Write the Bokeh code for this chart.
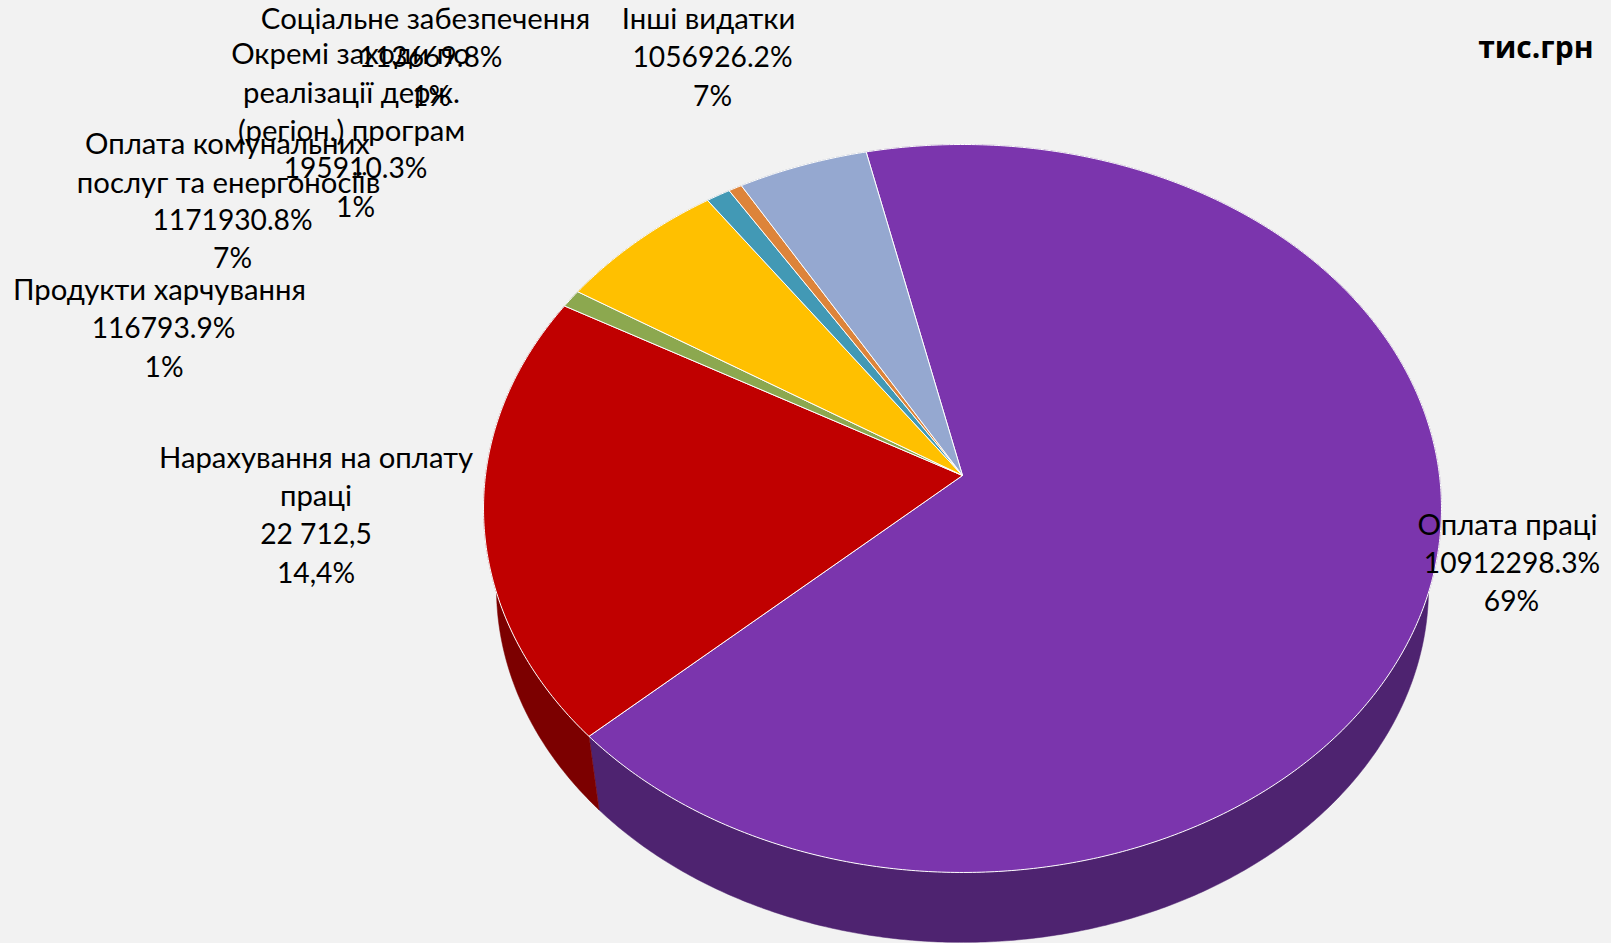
import numpy as np
from bokeh.plotting import figure
from bokeh.models import ColumnDataSource, Range1d
from bokeh.core.properties import value
from bokeh.embed import file_html
from bokeh.resources import INLINE

# ---- data ----
categories = ["Оплата праці", "Нарахування на оплату праці", "Продукти харчування",
              "Оплата комунальних послуг та енергоносіїв",
              "Окремі заходи по реалізації держ. (регіон.) програм",
              "Соціальне забезпечення", "Інші видатки"]
slice_shares = [66.6, 20.0, 0.8, 6.3, 0.9, 0.5, 4.8]   # share of the circle as drawn
top_colors = ["#7B35AD", "#C00000", "#8CA84F", "#FFC000", "#4299B5", "#DD843A", "#95A8D0"]
side_colors = ["#4E2370", "#7C0000", "#58692F", "#A07800", "#2A6072", "#8A5224", "#5E6983"]
label_lines = [
    ["Оплата праці", "10912298.3%", "69%"],
    ["Нарахування на оплату", "праці", "22 712,5", "14,4%"],
    ["Продукти харчування", "116793.9%", "1%"],
    ["Оплата комунальних", "послуг та енергоносіїв", "1171930.8%", "7%"],
    ["Окремі заходи по", "реалізації держ.", "(регіон.) програм", "195910.3%", "1%"],
    ["Соціальне забезпечення", "113669.8%", "1%"],
    ["Інші видатки", "1056926.2%", "7%"],
]
unit_label = "тис.грн"

# ---- layout (page pixels) ----
W, H = 1611, 943
BG = "#F2F2F2"
START_DEG = 102.7
APEX = (962.0, 475.0)
A, B, K = 477.0, 361.0, 0.0906     # perspective of the top disc
VANISH_Y, DEPTH_SCALE = 3461.0, 0.973
TEXT_SHIFT = -11.3
label_x = [[1507, 1511.5, 1511], [315.5, 315.5, 315.5, 315.5], [159, 163, 163.5],
           [227, 228, 232, 232], [350, 351, 351, 355, 355], [425, 430, 431], [708, 712, 712]]
label_y = [[534, 573, 611], [467, 505.5, 544, 583], [299, 338, 377],
           [153, 192, 230, 268], [63, 102, 140, 178, 217], [28, 67, 106], [28, 67, 106]]


def rim(theta):
    cx, sy = np.cos(theta), np.sin(theta)
    w = 1 + K * sy
    return APEX[0] + A * cx / w, APEX[1] - B * sy / w


def lower(x, y):
    return APEX[0] + DEPTH_SCALE * (x - APEX[0]), VANISH_Y + DEPTH_SCALE * (y - VANISH_Y)


shares = np.array(slice_shares) / sum(slice_shares)
edges = np.radians(START_DEG) - 2 * np.pi * np.concatenate([[0], np.cumsum(shares)])

top_xs, top_ys, side_xs, side_ys = [], [], [], []
for a0, a1 in zip(edges[:-1], edges[1:]):
    t = np.linspace(a0, a1, max(4, int(abs(a1 - a0) * 120)))
    x, y = rim(t)
    top_xs.append(np.concatenate([[APEX[0]], x]).tolist())
    top_ys.append(np.concatenate([[APEX[1]], y]).tolist())
    lx, ly = lower(x, y)
    side_xs.append(np.concatenate([x, lx[::-1]]).tolist())
    side_ys.append(np.concatenate([y, ly[::-1]]).tolist())

p = figure(width=W, height=H, output_backend="svg", toolbar_location=None,
           x_range=Range1d(0, W), y_range=Range1d(H, 0),
           min_border=0, background_fill_color=BG, border_fill_color=BG, outline_line_color=None)
p.axis.visible = False
p.grid.visible = False

p.patches("xs", "ys", source=ColumnDataSource(dict(xs=side_xs, ys=side_ys, c=side_colors)),
          fill_color="c", line_color="c", line_width=0.5)
p.patches("xs", "ys", source=ColumnDataSource(dict(xs=top_xs, ys=top_ys, c=top_colors)),
          fill_color="c", line_color="#FFFFFF", line_width=1)

tx, ty, tt, ts = [], [], [], []
for lines, xs, ys in zip(label_lines, label_x, label_y):
    tx += xs
    ty += [v + TEXT_SHIFT for v in ys]
    tt += lines
    ts += ["28.2px" if any(ch.isdigit() for ch in s) else "29.3px" for s in lines]
p.text("x", "y", text="t", text_font_size="s",
       source=ColumnDataSource(dict(x=tx, y=ty, t=tt, s=ts)),
       text_font=value("Lato"), text_color="#000000",
       text_align="center", text_baseline="alphabetic")
p.text([1593], [57 + TEXT_SHIFT], text=[unit_label], text_font=value("Open Sans"), text_font_style="bold",
       text_font_size="30px", text_color="#000000", text_align="right", text_baseline="alphabetic")

html = file_html(p, INLINE)
html = html.replace("<head>", "<head><style>html,body{margin:0;padding:0;background:#F2F2F2;overflow:hidden}</style>", 1)
open("out.html", "w").write(html)
